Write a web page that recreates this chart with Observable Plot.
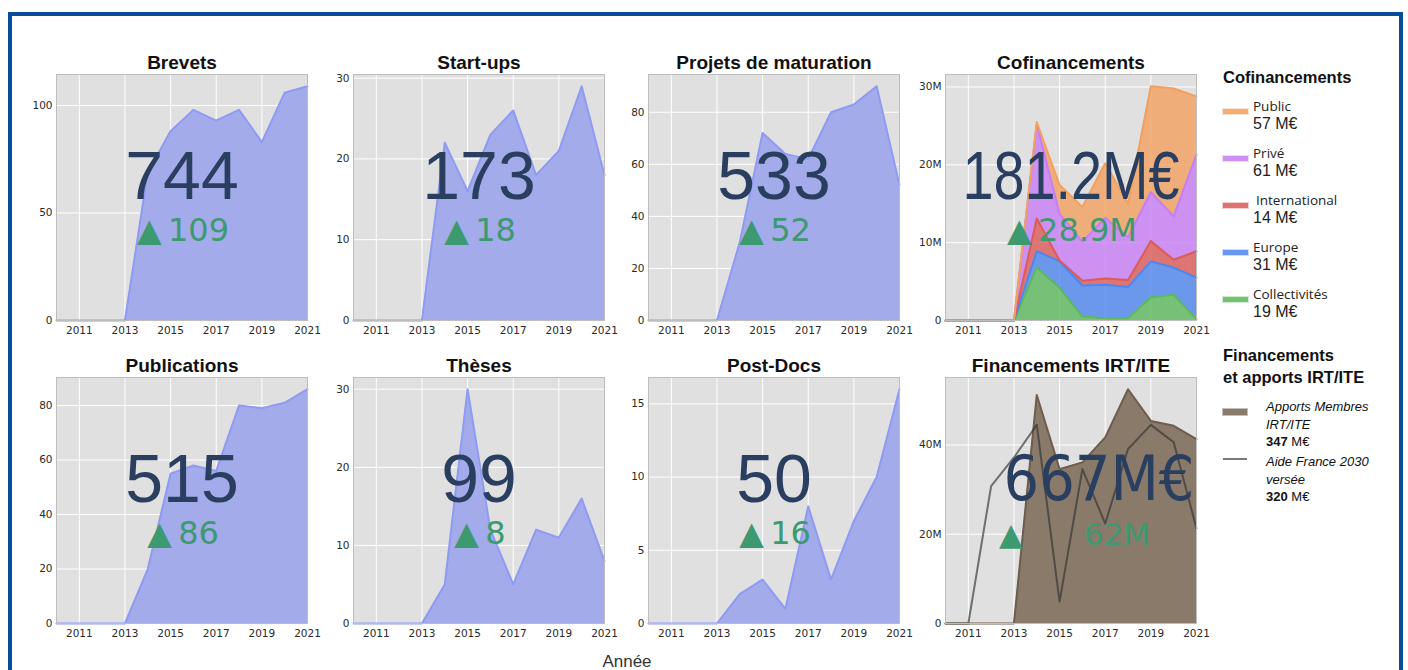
<!DOCTYPE html>
<html>
<head>
<meta charset="utf-8">
<script src="https://cdn.jsdelivr.net/npm/d3@7"></script>
<script src="https://cdn.jsdelivr.net/npm/@observablehq/plot@0.6"></script>
<style>
  html, body { margin:0; padding:0; background:#fff; }
  body { width:1408px; height:670px; overflow:hidden; position:relative; font-family:"Liberation Sans", Arial, sans-serif; }
  #frame { position:absolute; left:8px; top:12px; width:1387px; height:720px; border:4px solid #0b4b9c; box-sizing:content-box; }
  .panel { position:absolute; }
  .panel svg { overflow:visible; }
  .abs { position:absolute; white-space:nowrap; color:#222; }
  .lg-title { font-family:"Liberation Sans", Arial, sans-serif; font-weight:bold; font-size:16.5px; line-height:22px; color:#111; }
  .lg-label { font-family:"Open Sans", sans-serif; font-size:13.5px; line-height:16px; }
  .lg-value { font-family:"Liberation Sans", Arial, sans-serif; font-size:16px; line-height:18px; }
  .lg2 { font-family:"Liberation Sans", Arial, sans-serif; font-size:13px; line-height:17.5px; color:#111; }
  .lg2 i { font-style:italic; }
  .sw { position:absolute; }
</style>
</head>
<body>
<div id="frame"></div>
<div id="root"></div>
<script>
// ---------- data ----------
const years = [2010, 2011, 2012, 2013, 2014, 2015, 2016, 2017, 2018, 2019, 2020, 2021];
const xTicks = [2011, 2013, 2015, 2017, 2019, 2021];

const brevets      = [0, 0, 0, 0, 69, 88, 98, 93, 98, 83, 106, 109];
const startups     = [0, 0, 0, 0, 22, 16, 23, 26, 18, 21, 29, 18];
const maturation   = [0, 0, 0, 0, 30, 72, 64, 62, 80, 83, 90, 52];
const publications = [0, 0, 0, 0, 20, 55, 58, 56, 80, 79, 81, 86];
const theses       = [0, 0, 0, 0, 5, 30, 12, 5, 12, 11, 16, 8];
const postdocs     = [0, 0, 0, 0, 2, 3, 1, 8, 3, 7, 10, 16];

// Cofinancements (M€), stacked bottom -> top
const cofSeries = ["Collectivités", "Europe", "International", "Privé", "Public"];
const collectivites = [0, 0, 0, 0, 6.8, 4.2, 0.5, 0.3, 0.3, 3.0, 3.3, 0.2];
const europe        = [0, 0, 0, 0, 2.1, 3.4, 4.0, 4.3, 4.0, 4.6, 3.5, 5.3];
const international = [0, 0, 0, 0, 4.2, 0.1, 0.6, 0.8, 0.9, 2.6, 1.0, 3.4];
const prive         = [0, 0, 0, 0, 12.1, 6.0, 5.0, 7.8, 5.5, 6.3, 5.6, 12.4];
const publicFunds   = [0, 0, 0, 0, 0.3, 3.7, 4.5, 7.0, 4.3, 13.6, 16.4, 7.5];
const cofColors = ["#5cb85c", "#4d86ee", "#dc5a5a", "#c77df5", "#f2a060"];
const cofLegendOrder = ["Public", "Privé", "International", "Europe", "Collectivités"];
const cofLegendValues = [57, 61, 14, 31, 19];

// Financements IRT/ITE (M€)
const apports = [0, 0, 0, 0, 51.2, 34.6, 36.1, 41.7, 52.5, 45.4, 44.3, 41.3];
const aide    = [0, 0, 30.8, 37.2, 44.5, 4.9, 34.6, 22.4, 39.1, 44.5, 40.6, 21.3];
const irtLegendValues = [347, 320];

const titles = ["Brevets", "Start-ups", "Projets de maturation", "Cofinancements",
                "Publications", "Thèses", "Post-Docs", "Financements IRT/ITE"];
const totals = ["744", "173", "533", "181.2M€", "515", "99", "50", "667M€"];
const deltas = ["▲109", "▲18", "▲52", "▲28.9M", "▲86", "▲8", "▲16", "62M"];
const yTicks = [[0, 50, 100], [0, 10, 20, 30], [0, 20, 40, 60, 80], [0, 10, 20, 30],
                [0, 20, 40, 60, 80], [0, 10, 20, 30], [0, 5, 10, 15], [0, 20, 40]];

// ---------- layout ----------
const plotLefts = [56, 353, 648, 945];
const plotTops = [74, 377];
const PW = 251, PH = 246;
const ML = 40, MR = 14, MT = 30, MB = 24;
const bigSqueeze = [1, 1, 1, 0.82, 1, 1, 1, 0.89];

const root = document.getElementById("root");

function common(i, ymax) {
  return {
    width: PW + ML + MR, height: PH + MT + MB,
    marginLeft: ML, marginRight: MR, marginTop: MT, marginBottom: MB,
    style: { fontFamily: "DejaVu Sans", fontSize: "10.5px", color: "#2a2a2a", background: "transparent", overflow: "visible" },
    x: { domain: [2010, 2021] },
    y: { domain: [0, ymax] }
  };
}

function bgMarks(i) {
  return [
    Plot.frame({ fill: "#e0e0e0", stroke: null }),
    Plot.gridX(xTicks, { stroke: "#fff", strokeOpacity: 1, strokeWidth: 1 }),
    Plot.gridY(yTicks[i], { stroke: "#fff", strokeOpacity: 1, strokeWidth: 1 })
  ];
}

function fgMarks(i, fmt) {
  const marks = [
    Plot.frame({ stroke: "#bdbdbd", strokeWidth: 1 }),
    Plot.axisX(xTicks, { tickSize: 0, tickPadding: 6, tickFormat: d => String(d), label: null }),
    Plot.axisY(yTicks[i], { tickSize: 0, tickPadding: 4, tickFormat: fmt, label: null }),
    Plot.text([titles[i]], { text: d => d, frameAnchor: "top", lineAnchor: "middle", dy: -12, fontSize: 19, fontWeight: "bold",
      fontFamily: "Liberation Sans", fill: "#111" })
  ];
  const bigFont = i === 7 ? "DejaVu Sans" : "Liberation Sans";
  const bigSize = i === 7 ? 63 : 68;
  marks.push(Plot.text([totals[i]], { text: d => d, frameAnchor: "middle", dy: i === 7 ? -21 : -20, dx: i === 7 ? 28 : 0,
    fontSize: bigSize, fontFamily: bigFont, fill: "#2a3f5f" }));
  if (i === 7) {
    marks.push(Plot.text(["▲"], { text: d => d, frameAnchor: "middle", dy: 35, dx: -60,
      fontSize: 31, fontFamily: "DejaVu Sans", fill: "#3d9970" }));
    marks.push(Plot.text([deltas[i]], { text: d => d, frameAnchor: "middle", dy: 35, dx: 46,
      fontSize: 31, fontFamily: "DejaVu Sans", fill: "#3d9970" }));
  } else {
    marks.push(Plot.text([deltas[i]], { text: d => d.replace("▲", "▲\u2009"), frameAnchor: "middle", dy: 33, dx: 1,
      fontSize: 32, fontFamily: "DejaVu Sans", fill: "#3d9970" }));
  }
  return marks;
}

function simplePanel(i, values) {
  const data = years.map((y, j) => ({ year: y, value: values[j] }));
  const ymax = d3.max(values) * 1.05;
  return Plot.plot({
    ...common(i, ymax),
    marks: [
      ...bgMarks(i),
      Plot.areaY(data, { x: "year", y: "value", fill: "#a3abeb" }),
      Plot.lineY(data, { x: "year", y: "value", stroke: "#8f9bf3", strokeWidth: 2 }),
      ...fgMarks(i, d => String(d))
    ]
  });
}

function cofPanel(i) {
  const cols = [collectivites, europe, international, prive, publicFunds];
  const data = [];
  cofSeries.forEach((s, k) => years.forEach((y, j) => data.push({ year: y, series: s, value: cols[k][j] })));
  const totalsByYear = years.map((y, j) => d3.sum(cols, c => c[j]));
  const ymax = d3.max(totalsByYear) * 1.05;
  const stackOpts = { x: "year", y: "value", z: "series", order: cofSeries };
  return Plot.plot({
    ...common(i, ymax),
    color: { domain: cofSeries, range: cofColors },
    marks: [
      ...bgMarks(i),
      Plot.areaY(data, Plot.stackY({ ...stackOpts, fill: "series", fillOpacity: 0.8 })),
      Plot.lineY(data, Plot.stackY2({ ...stackOpts, stroke: "series", strokeWidth: 2 })),
      ...fgMarks(i, d => d === 0 ? "0" : d + "M")
    ]
  });
}

function irtPanel(i) {
  const a = years.map((y, j) => ({ year: y, value: apports[j] }));
  const b = years.map((y, j) => ({ year: y, value: aide[j] }));
  const ymax = d3.max([...apports, ...aide]) * 1.05;
  return Plot.plot({
    ...common(i, ymax),
    marks: [
      ...bgMarks(i),
      Plot.areaY(a, { x: "year", y: "value", fill: "#8a7a6a" }),
      Plot.lineY(a, { x: "year", y: "value", stroke: "#6e5d4d", strokeWidth: 2 }),
      Plot.lineY(b, { x: "year", y: "value", stroke: "#333", strokeOpacity: 0.65, strokeWidth: 2 }),
      ...fgMarks(i, d => d === 0 ? "0" : d + "M")
    ]
  });
}

const simpleValues = [brevets, startups, maturation, null, publications, theses, postdocs, null];
for (let i = 0; i < 8; i++) {
  let svg;
  if (i === 3) svg = cofPanel(i);
  else if (i === 7) svg = irtPanel(i);
  else svg = simplePanel(i, simpleValues[i]);
  const div = document.createElement("div");
  div.className = "panel";
  div.style.left = (plotLefts[i % 4] - ML) + "px";
  div.style.top = (plotTops[Math.floor(i / 4)] - MT) + "px";
  div.appendChild(svg);
  root.appendChild(div);
  if (bigSqueeze[i] !== 1) {
    const sq = bigSqueeze[i];
    div.querySelectorAll("text").forEach(t => {
      if (t.textContent === totals[i]) {
        const L = t.getComputedTextLength();
        if (L > 0) {
          t.setAttribute("textLength", (L * sq).toFixed(1));
          t.setAttribute("lengthAdjust", "spacingAndGlyphs");
        }
      }
    });
  }
}

// ---------- legends ----------
function add(html, cls, left, top, extra) {
  const d = document.createElement("div");
  d.className = "abs " + cls;
  d.style.left = left + "px";
  d.style.top = top + "px";
  if (extra) Object.assign(d.style, extra);
  d.innerHTML = html;
  root.appendChild(d);
  return d;
}
add("Cofinancements", "lg-title", 1223, 66);
cofLegendOrder.forEach((name, k) => {
  const color = cofColors[cofSeries.indexOf(name)];
  const y0 = 98 + 47 * k;
  add("", "sw", 1223, y0 + 11, { width: "25px", height: "5px", background: color, opacity: 0.85,
    boxShadow: "0 0 0 1px " + color + "55" });
  add(name, "lg-label", name === "International" ? 1256 : 1253, y0);
  add(cofLegendValues[k] + " M€", "lg-value", 1253, y0 + 17);
});

add("Financements<br>et apports IRT/ITE", "lg-title", 1223, 344);
add("", "sw", 1223, 409, { width: "24px", height: "6px", background: "#8a7a6a", boxShadow: "0 0 0 1px #6e5d4d66" });
add("<i>Apports Membres<br>IRT/ITE</i><br><b>" + irtLegendValues[0] + "</b> M€", "lg2", 1266, 398);
add("", "sw", 1223, 458, { width: "24px", height: "2px", background: "#7a7a7a" });
add("<i>Aide France 2030<br>versée</i><br><b>" + irtLegendValues[1] + "</b> M€", "lg2", 1266, 453);

add("Année", "", 627, 652, { transform: "translateX(-50%)", fontSize: "17px", color: "#333",
  fontFamily: "Liberation Sans, Arial, sans-serif", lineHeight: "20px" });
</script>
</body>
</html>
